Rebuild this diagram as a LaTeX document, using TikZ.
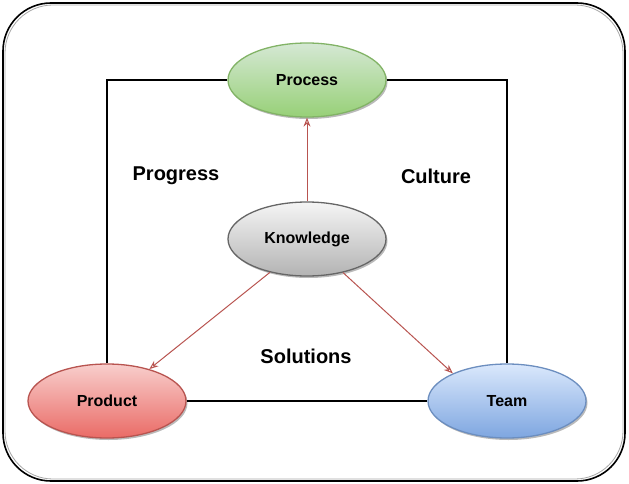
\documentclass[tikz,border=0pt]{standalone}
\usepackage{fontspec}
\setmainfont{Liberation Sans}
\usetikzlibrary{shapes.geometric,arrows.meta,shadows}
\definecolor{gborder}{HTML}{82B366}
\definecolor{gtop}{HTML}{D5E8D4}
\definecolor{gbot}{HTML}{97D077}
\definecolor{kborder}{HTML}{666666}
\definecolor{ktop}{HTML}{F5F5F5}
\definecolor{kbot}{HTML}{B3B3B3}
\definecolor{rborder}{HTML}{B85450}
\definecolor{rtop}{HTML}{F8CECC}
\definecolor{rbot}{HTML}{EA6B66}
\definecolor{bborder}{HTML}{6C8EBF}
\definecolor{btop}{HTML}{DAE8FC}
\definecolor{bbot}{HTML}{7EA6E0}
\tikzset{
  blob/.style={ellipse, minimum width=158pt, minimum height=74pt, line width=1.3pt,
    font=\fontsize{16}{18}\selectfont\bfseries, inner sep=0pt,
    drop shadow={shadow xshift=1.5pt, shadow yshift=-2pt, fill=black!45, opacity=0.6}},
  conn/.style={line width=1.2pt, black},
  redarrow/.style={line width=1pt, rborder, -{Stealth[open, length=9pt, width=7pt]}},
  biglabel/.style={font=\fontsize{20}{22}\selectfont\bfseries}
}
\begin{document}
\begin{tikzpicture}[x=1pt,y=-1pt]
\useasboundingbox (0,0) rectangle (629,484);
\draw[line width=1.6pt, rounded corners=48pt] (3,3) rectangle (625,481);
\draw[line width=0.8pt, black!35, rounded corners=48pt] (5,5) rectangle (623,479);

\node[blob, draw=gborder, top color=gtop, bottom color=gbot] (proc) at (307,80) {Process};
\node[blob, draw=kborder, top color=ktop, bottom color=kbot] (know) at (307,239) {Knowledge};
\node[blob, draw=rborder, top color=rtop, bottom color=rbot] (prod) at (107,401) {Product};
\node[blob, draw=bborder, top color=btop, bottom color=bbot] (team) at (507,401) {Team};

\draw[conn] (proc.west) -| (prod.north);
\draw[conn] (proc.east) -| (team.north);
\draw[conn] (prod.east) -- (team.west);

\draw[redarrow] (know.north) -- (proc.south);
\draw[redarrow] (know.222) -- (prod.37);
\draw[redarrow] (know.317) -- (team.153);

\node[biglabel] (lprog) at (176,176) {Progress};
\node[biglabel] (lcult) at (436,176) {Culture};
\node[biglabel] (lsol) at (306,356) {Solutions};
\end{tikzpicture}
\end{document}
